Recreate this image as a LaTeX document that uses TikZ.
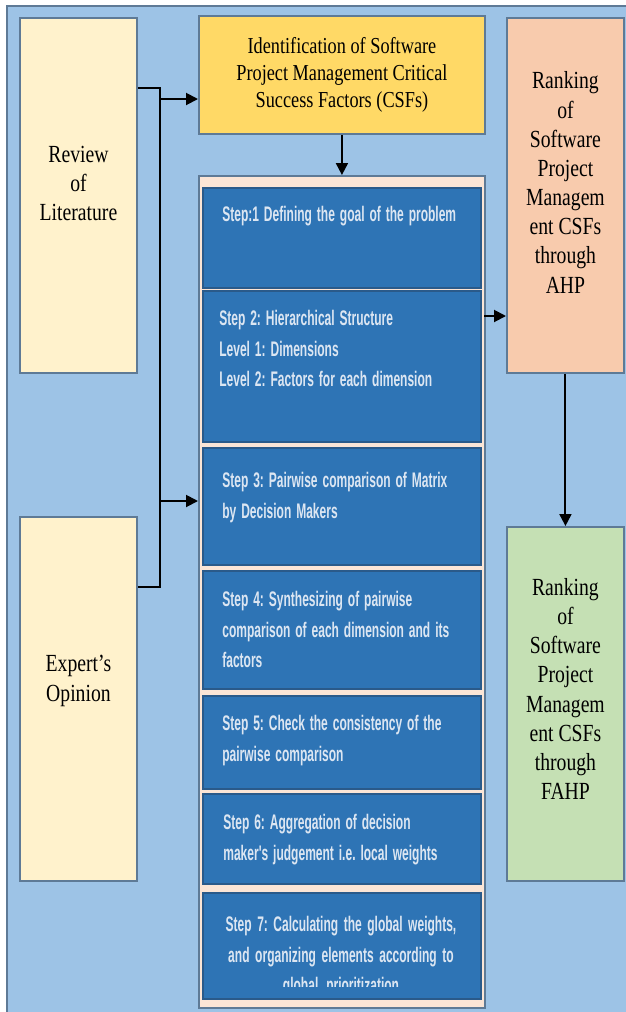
\documentclass[tikz,border=0pt]{standalone}
\usepackage{fontspec}
\setmainfont{Liberation Serif}[FakeStretch=0.8]
\newfontfamily\stepfont{Liberation Sans}[FakeStretch=0.57, UprightFont=*-Bold]
\usetikzlibrary{arrows.meta}

\definecolor{bgblue}{HTML}{9DC3E6}
\definecolor{edgegray}{HTML}{5E7A96}
\definecolor{cream}{HTML}{FFF2CC}
\definecolor{gold}{HTML}{FFD966}
\definecolor{peach}{HTML}{F8CBAD}
\definecolor{paleorange}{HTML}{FBE5D6}
\definecolor{sage}{HTML}{C5E0B4}
\definecolor{stepblue}{HTML}{2E74B5}
\definecolor{stepedge}{HTML}{2A5A8A}
\definecolor{steptextc}{HTML}{DCE6F2}

\newcommand\steptight{\frenchspacing\spaceskip=2.8pt plus 1pt minus 0.5pt\relax}

\tikzset{
  sidebox/.style={draw=edgegray, line width=1.1pt, anchor=north west, inner sep=0pt, minimum width=2.34cm},
  sidetext/.style={align=center, font=\fontsize{14}{16.6}\selectfont, inner sep=0pt},
  stepbox/.style={draw=stepedge, line width=1.1pt, fill=stepblue, anchor=north west, inner sep=0pt, minimum width=5.56cm},
  steptext/.style={text=steptextc, align=left, text width=5cm, inner sep=0pt,
    font=\stepfont\fontsize{12}{17.4}\selectfont, execute at begin node=\steptight},
  link/.style={line width=1.1pt, black},
  arr/.style={link, -{Triangle[length=0.24cm, width=0.24cm]}}
}

\begin{document}
\begin{tikzpicture}[x=0.02cm, y=-0.02cm]
\useasboundingbox (0,0) rectangle (626,1012);
\clip (0,0) rectangle (626,1012);
\fill[white] (0,0) rectangle (626,1012);
\draw[fill=bgblue, draw=edgegray, line width=1.1pt] (7,6) rectangle (650,1040);

% left inputs
\node[sidebox, fill=cream, minimum height=7.1cm,
  label={[sidetext, yshift=0.24cm]center:{Review\\of\\Literature}}] (rev) at (19,17) {};
\node[sidebox, fill=cream, minimum height=7.28cm,
  label={[sidetext, yshift=0.36cm]center:{Expert's\\Opinion}}] (exp) at (19,516) {};

% identification of CSFs
\node[draw=edgegray, line width=1.1pt, fill=gold, anchor=north west, inner sep=0pt,
  minimum width=5.72cm, minimum height=2.36cm, align=center,
  font=\fontsize{13}{15.6}\selectfont] (ident) at (198,15)
  {Identification of Software\\Project Management Critical\\Success Factors (CSFs)};

% AHP steps
\node[draw=edgegray, line width=1.1pt, fill=paleorange, anchor=north west, inner sep=0pt,
  minimum width=5.72cm, minimum height=16.64cm] (steps) at (198,175) {};
\node[stepbox, minimum height=2.0cm,
  label={[steptext, anchor=north west, xshift=0.4cm, yshift=-0.38cm]north west:{Step:1 Defining the goal of the problem}}] (s1) at (202,187) {};
\node[stepbox, minimum height=3.02cm,
  label={[steptext, anchor=north west, xshift=0.34cm, yshift=-0.4cm]north west:{Step 2: Hierarchical Structure\\Level 1: Dimensions\\Level 2: Factors for each dimension}}] (s2) at (202,290) {};
\node[stepbox, minimum height=2.34cm,
  label={[steptext, anchor=north west, xshift=0.4cm, yshift=-0.5cm]north west:{Step 3: Pairwise comparison of Matrix\\by Decision Makers}}] (s3) at (202,447) {};
\node[stepbox, minimum height=2.36cm,
  label={[steptext, anchor=north west, xshift=0.4cm, yshift=-0.42cm]north west:{Step 4: Synthesizing of pairwise\\comparison of each dimension and its\\factors}}] (s4) at (202,570) {};
\node[stepbox, minimum height=1.86cm,
  label={[steptext, anchor=north west, xshift=0.4cm, yshift=-0.4cm]north west:{Step 5: Check the consistency of the\\pairwise comparison}}] (s5) at (202,695) {};
\node[stepbox, minimum height=1.8cm,
  label={[steptext, anchor=north west, xshift=0.42cm, yshift=-0.42cm]north west:{Step 6: Aggregation of decision\\maker's judgement i.e. local weights}}] (s6) at (202,793) {};
\node[stepbox, minimum height=2.12cm] (s7) at (202,892) {};
\begin{scope}
  \clip (202,892) rectangle (480,986);
  \node[steptext, align=center, text width=5.2cm, anchor=north] (s7-txt) at (341,916)
    {Step 7: Calculating the global weights,\\and organizing elements according to\\global prioritization};
\end{scope}

% rankings
\node[sidebox, fill=peach, minimum height=7.1cm,
  label={[sidetext, yshift=0.26cm]center:{Ranking\\of\\Software\\Project\\Managem\\ent CSFs\\through\\AHP}}] (ahp) at (506,17) {};
\node[sidebox, fill=sage, minimum height=7.08cm,
  label={[sidetext, yshift=0.3cm]center:{Ranking\\of\\Software\\Project\\Managem\\ent CSFs\\through\\FAHP}}] (fahp) at (506,526) {};

% connectors
\coordinate (j1) at (160,88);
\coordinate (j2) at (160,587);
\coordinate (j3) at (160,99);
\coordinate (j4) at (160,501);
\coordinate (j5) at (484,316);
\draw[link] (j1 -| rev.east) -- (j1) -- (j2) -- (j2 -| exp.east);
\draw[arr] (j3) -- (j3 -| ident.west);
\draw[arr] (j4) -- (j4 -| steps.west);
\draw[arr] (ident.south) -- (steps.north);
\draw[arr] (j5) -- (j5 -| ahp.west);
\draw[arr] (ahp.south) -- (fahp.north);
\end{tikzpicture}
\end{document}
